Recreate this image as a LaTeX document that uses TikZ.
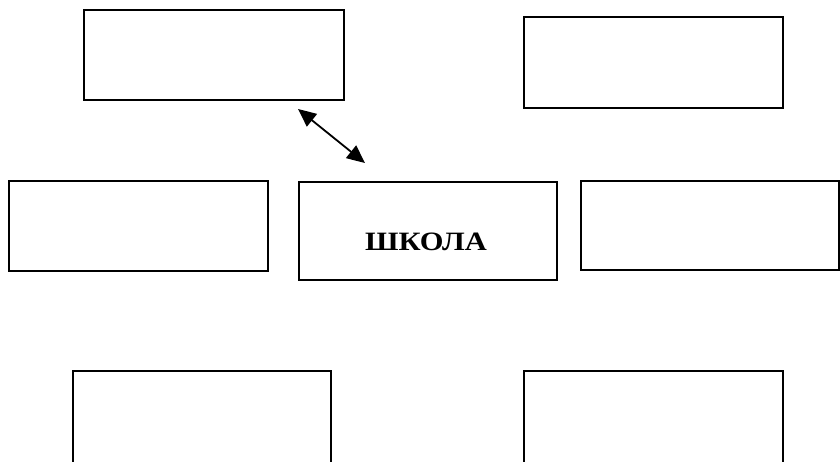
\documentclass[tikz,border=0pt]{standalone}
\usepackage{fontspec}
\setmainfont{Liberation Serif}
\newfontfamily\widefont[FakeStretch=1.15]{Liberation Serif}
\usetikzlibrary{arrows.meta}
\begin{document}
\begin{tikzpicture}[x=1pt,y=-1pt,
  box/.style={draw=black,line width=2.2pt,rectangle},
  link/.style={line width=1.8pt,{Triangle[length=18pt,width=16pt]}-{Triangle[length=18pt,width=16pt]}}]
\useasboundingbox (0,0) rectangle (840,461);
\clip (0,0) rectangle (840,461);
\fill[white] (0,0) rectangle (840,461);
\draw[box] (84,10) rectangle (344,100);
\draw[box] (524,17) rectangle (783,108);
\draw[box] (9,181) rectangle (268,271);
\draw[box] (299,182) rectangle (557,280);
\node[anchor=base,font=\widefont\bfseries\fontsize{26.5}{30}\selectfont,inner sep=0pt] (school) at (426,250) {ШКОЛА};
\draw[box] (581,181) rectangle (839,270);
\draw[box] (73,371) rectangle (331,475);
\draw[box] (524,371) rectangle (783,475);
\coordinate (a1) at (298,109);
\coordinate (a2) at (365,163);
\draw[link] (a1) -- (a2);
\end{tikzpicture}
\end{document}
